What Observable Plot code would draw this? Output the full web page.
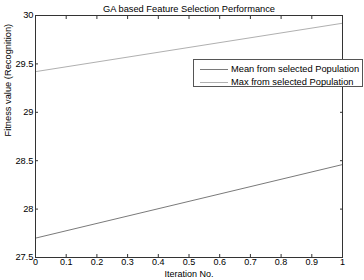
<!DOCTYPE html>
<html>
<head>
<meta charset="utf-8">
<script src="https://cdn.jsdelivr.net/npm/d3@7"></script>
<script src="https://cdn.jsdelivr.net/npm/@observablehq/plot@0.6"></script>
<style>
  html, body { margin: 0; padding: 0; background: #fff; }
  #wrap { position: relative; width: 364px; height: 280px; font-family: "Liberation Sans", Arial, sans-serif; }
  #legend { position: absolute; left: 193px; top: 59px; width: 170px; height: 28px; border: 1px solid #555; background: #fff; box-sizing: border-box; font-size: 9.3px; color: #000; }
  .row { position: absolute; left: 6px; height: 12px; display: flex; align-items: center; white-space: nowrap; }
  .row svg { margin-right: 3px; }
</style>
</head>
<body>
<div id="wrap"></div>
<script>
const title = "GA based Feature Selection Performance";
const xLabel = "Iteration No.";
const yLabel = "Fitness value (Recognition)";
const seriesNames = ["Mean from selected Population", "Max from selected Population"];
const seriesColors = ["#7a7a7a", "#b0b0b0"];
const iterations = [0, 1];
const meanValues = [27.70, 28.46];
const maxValues = [29.42, 29.92];
const xTicks = [0, 0.1, 0.2, 0.3, 0.4, 0.5, 0.6, 0.7, 0.8, 0.9, 1];
const yTicks = [27.5, 28, 28.5, 29, 29.5, 30];

const data = [];
iterations.forEach((x, i) => {
  data.push({series: seriesNames[0], x, y: meanValues[i]});
  data.push({series: seriesNames[1], x, y: maxValues[i]});
});

const tickFmt = d => String(+d.toFixed(2));

const chart = Plot.plot({
  width: 364,
  height: 280,
  marginLeft: 35,
  marginRight: 22,
  marginTop: 15,
  marginBottom: 23,
  style: {fontFamily: "Liberation Sans, Arial, sans-serif", fontSize: "9.3px", color: "#000", background: "#fff"},
  x: {domain: [0, 1]},
  y: {domain: [27.5, 30]},
  color: {domain: seriesNames, range: seriesColors},
  marks: [
    Plot.line(data, {x: "x", y: "y", z: "series", stroke: "series", strokeWidth: 1}),
    Plot.frame({stroke: "#333", strokeWidth: 1}),
    Plot.axisX(xTicks, {anchor: "bottom", tickSize: -3, tickPadding: 4, tickFormat: tickFmt, label: null, fontSize: 9, stroke: "#333"}),
    Plot.axisX(xTicks, {anchor: "top", tickSize: -3, tickFormat: () => "", label: null, stroke: "#333"}),
    Plot.axisY(yTicks, {anchor: "left", tickSize: -3, tickPadding: 5, tickFormat: tickFmt, label: null, fontSize: 9.3, stroke: "#333"}),
    Plot.axisY(yTicks, {anchor: "right", tickSize: -3, tickFormat: () => "", label: null, stroke: "#333"}),
    Plot.text([title], {frameAnchor: "top", dy: -10, fontSize: 9.3, text: d => d}),
    Plot.text([xLabel], {frameAnchor: "bottom", lineAnchor: "top", dy: 13, fontSize: 9, text: d => d}),
    Plot.text([yLabel], {frameAnchor: "left", dx: -27, rotate: -90, fontSize: 9.3, text: d => d})
  ]
});

const wrap = document.getElementById("wrap");
wrap.appendChild(chart);

const legend = document.createElement("div");
legend.id = "legend";
seriesNames.forEach((name, i) => {
  const row = document.createElement("div");
  row.className = "row";
  row.style.top = (i === 0 ? 3 : 16) + "px";
  row.innerHTML = `<svg width="28" height="3"><line x1="0" x2="28" y1="1.5" y2="1.5" stroke="${seriesColors[i]}" stroke-width="1"/></svg><span>${name}</span>`;
  legend.appendChild(row);
});
wrap.appendChild(legend);
</script>
</body>
</html>
